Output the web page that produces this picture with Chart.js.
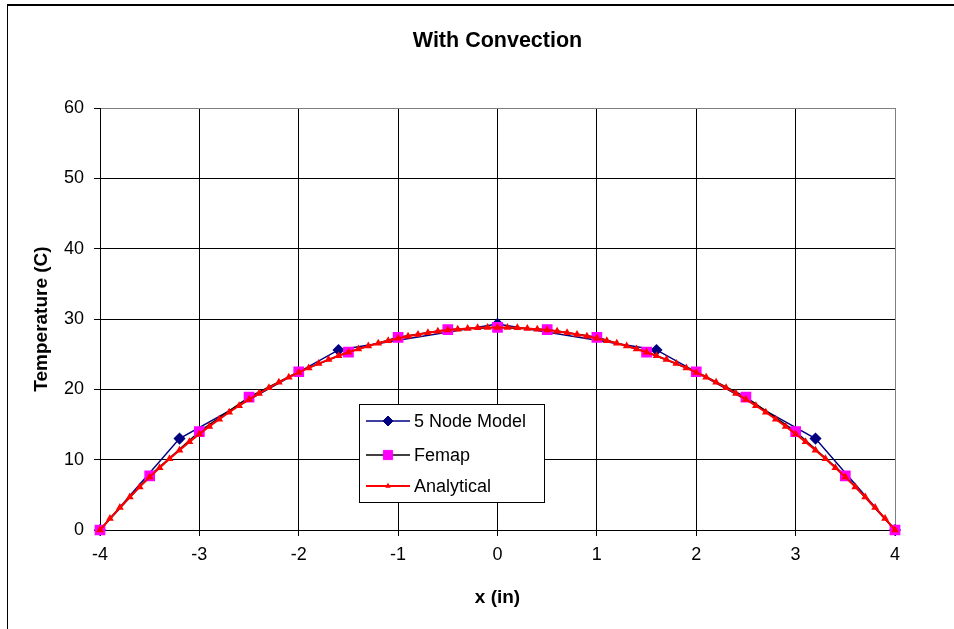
<!DOCTYPE html>
<html>
<head>
<meta charset="utf-8">
<script src="https://cdn.jsdelivr.net/npm/chart.js@4/dist/chart.umd.min.js"></script>
<style>
  html, body { margin: 0; padding: 0; background: #fff; overflow: hidden; }
  #wrap { position: relative; width: 954px; height: 629px; }
  #frame { position: absolute; left: 7px; top: 4px; width: 1000px; height: 700px;
           border-left: 1px solid #000; border-top: 2px solid #000; pointer-events: none; }
</style>
</head>
<body>
<div id="wrap">
  <canvas id="c" width="954" height="629"></canvas>
  <div id="frame"></div>
</div>
<script>
const chartTitle = 'With Convection';
const xAxisTitle = 'x (in)';
const yAxisTitle = 'Temperature (C)';
const seriesNames = ['5 Node Model', 'Femap', 'Analytical'];

const xTicks = [-4, -3, -2, -1, 0, 1, 2, 3, 4];
const yTicks = [0, 10, 20, 30, 40, 50, 60];

const fiveNodeX = [-4, -3.2, -1.6, 0, 1.6, 3.2, 4];
const fiveNodeY = [0, 13.0, 25.6, 29.3, 25.6, 13.0, 0];

const femapX = [-4, -3.5, -3, -2.5, -2, -1.5, -1, -0.5, 0, 0.5, 1, 1.5, 2, 2.5, 3, 3.5, 4];
const femapY = [0, 7.7, 14.0, 18.9, 22.5, 25.3, 27.4, 28.5, 28.8, 28.5, 27.4, 25.3, 22.5, 18.9, 14.0, 7.7, 0];

const analyticalX = [-4, -3.9, -3.8, -3.7, -3.6, -3.5, -3.4, -3.3, -3.2, -3.1, -3, -2.9, -2.8, -2.7, -2.6, -2.5, -2.4, -2.3, -2.2, -2.1,
  -2, -1.9, -1.8, -1.7, -1.6, -1.5, -1.4, -1.3, -1.2, -1.1, -1, -0.9, -0.8, -0.7, -0.6, -0.5, -0.4, -0.3, -0.2, -0.1,
  0, 0.1, 0.2, 0.3, 0.4, 0.5, 0.6, 0.7, 0.8, 0.9, 1, 1.1, 1.2, 1.3, 1.4, 1.5, 1.6, 1.7, 1.8, 1.9,
  2, 2.1, 2.2, 2.3, 2.4, 2.5, 2.6, 2.7, 2.8, 2.9, 3, 3.1, 3.2, 3.3, 3.4, 3.5, 3.6, 3.7, 3.8, 3.9, 4];
const analyticalY = [0, 1.63, 3.19, 4.69, 6.13, 7.52, 8.85, 10.13, 11.35, 12.53, 13.65, 14.73, 15.76, 16.74, 17.68, 18.57, 19.42, 20.22, 20.99, 21.72,
  22.40, 23.05, 23.66, 24.23, 24.77, 25.27, 25.73, 26.16, 26.56, 26.92, 27.25, 27.55, 27.81, 28.04, 28.25, 28.42, 28.55, 28.66, 28.74, 28.78,
  28.80, 28.78, 28.74, 28.66, 28.55, 28.42, 28.25, 28.04, 27.81, 27.55, 27.25, 26.92, 26.56, 26.16, 25.73, 25.27, 24.77, 24.23, 23.66, 23.05,
  22.40, 21.72, 20.99, 20.22, 19.42, 18.57, 17.68, 16.74, 15.76, 14.73, 13.65, 12.53, 11.35, 10.13, 8.85, 7.52, 6.13, 4.69, 3.19, 1.63, 0];

const FONT = "'Liberation Sans', Arial, sans-serif";
const pts = (xs, ys) => xs.map((x, i) => ({ x: x, y: ys[i] }));

const legendPlugin = {
  id: 'boxLegend',
  afterDraw(chart) {
    const ctx = chart.ctx;
    const L = 359, T = 404, R = 544, B = 502;
    ctx.save();
    ctx.fillStyle = '#fff';
    ctx.fillRect(L, T, R - L, B - T);
    ctx.strokeStyle = '#000';
    ctx.lineWidth = 1;
    ctx.strokeRect(L + 0.5, T + 0.5, R - L, B - T);
    const rows = [421, 455, 486];
    chart.data.datasets.forEach((ds, i) => {
      const y = rows[i];
      ctx.strokeStyle = ds.borderColor;
      ctx.lineWidth = ds.borderWidth;
      ctx.beginPath();
      ctx.moveTo(366, y);
      ctx.lineTo(410, y);
      ctx.stroke();
      ctx.fillStyle = ds.pointBackgroundColor;
      ctx.strokeStyle = ds.pointBorderColor;
      ctx.lineWidth = 1;
      ctx.beginPath();
      const r = ds.pointRadius;
      if (ds.pointStyle === 'rectRot') {
        ctx.moveTo(388, y - r); ctx.lineTo(388 + r, y); ctx.lineTo(388, y + r); ctx.lineTo(388 - r, y); ctx.closePath();
      } else if (ds.pointStyle === 'rect') {
        const s = r * Math.SQRT1_2;
        ctx.rect(388 - s, y - s, 2 * s, 2 * s);
      } else {
        ctx.moveTo(388, y - r); ctx.lineTo(388 + r * 0.87, y + r * 0.5); ctx.lineTo(388 - r * 0.87, y + r * 0.5); ctx.closePath();
      }
      ctx.fill(); ctx.stroke();
      ctx.fillStyle = '#000';
      ctx.font = '18px ' + FONT;
      ctx.textAlign = 'left';
      ctx.textBaseline = 'middle';
      ctx.fillText(ds.label, 414, y + 1);
    });
    ctx.restore();
  }
};

const titlePlugin = {
  id: 'centerTitle',
  afterDraw(chart) {
    const ctx = chart.ctx;
    const a = chart.chartArea;
    ctx.save();
    ctx.fillStyle = '#000';
    ctx.font = 'bold 21.5px ' + FONT;
    ctx.textAlign = 'center';
    ctx.textBaseline = 'middle';
    ctx.fillText(chartTitle, (a.left + a.right) / 2, 41);
    ctx.restore();
  }
};

new Chart(document.getElementById('c'), {
  type: 'line',
  data: {
    datasets: [
      {
        label: seriesNames[0], data: pts(fiveNodeX, fiveNodeY), order: 3, clip: false,
        borderColor: '#000080', backgroundColor: '#000080', borderWidth: 1.5,
        pointStyle: 'rectRot', pointRadius: 5, pointBackgroundColor: '#000080', pointBorderColor: '#000080',
        tension: 0, fill: false
      },
      {
        label: seriesNames[1], data: pts(femapX, femapY), order: 2, clip: false,
        borderColor: '#000000', backgroundColor: '#ff00ff', borderWidth: 1.5,
        pointStyle: 'rect', pointRadius: 6.5, pointBackgroundColor: '#ff00ff', pointBorderColor: '#ff00ff',
        tension: 0, fill: false
      },
      {
        label: seriesNames[2], data: pts(analyticalX, analyticalY), order: 1, clip: false,
        borderColor: '#ff0000', backgroundColor: '#ff0000', borderWidth: 2,
        pointStyle: 'triangle', pointRadius: 2.5, pointBackgroundColor: '#ff0000', pointBorderColor: '#ff0000',
        tension: 0, fill: false
      }
    ]
  },
  options: {
    responsive: false,
    animation: false,
    devicePixelRatio: 1,
    events: [],
    layout: { padding: { top: 108, right: 59, bottom: 0, left: 0 } },
    plugins: {
      legend: { display: false },
      title: { display: false },
      tooltip: { enabled: false }
    },
    scales: {
      x: {
        type: 'linear', min: xTicks[0], max: xTicks[xTicks.length - 1],
        afterBuildTicks: (s) => { s.ticks = xTicks.map(v => ({ value: v })); },
        afterFit: (s) => { s.height = 99; },
        ticks: { color: '#000', font: { family: FONT, size: 18 }, padding: 8, maxRotation: 0,
                 callback: (v) => String(v) },
        grid: { color: (c) => (c.tick && c.tick.value === 4 ? '#808080' : '#000'), lineWidth: 1,
                tickLength: 6, tickColor: '#000', drawTicks: true },
        border: { color: '#000', width: 1 },
        title: { display: true, text: xAxisTitle, color: '#000',
                 font: { family: FONT, size: 19, weight: 'bold' }, padding: { top: 0, bottom: 20 } }
      },
      y: {
        type: 'linear', min: yTicks[0], max: yTicks[yTicks.length - 1],
        afterBuildTicks: (s) => { s.ticks = yTicks.map(v => ({ value: v })); },
        afterFit: (s) => { s.width = 100; },
        ticks: { color: '#000', font: { family: FONT, size: 18 }, padding: 10,
                 callback: (v) => String(v) },
        grid: { color: (c) => (c.tick && c.tick.value === 60 ? '#808080' : '#000'), lineWidth: 1,
                tickLength: 6, tickColor: '#000', drawTicks: true },
        border: { color: '#000', width: 1 },
        title: { display: true, text: yAxisTitle, color: '#000',
                 font: { family: FONT, size: 19, weight: 'bold' }, padding: { top: 30, bottom: 0 } }
      }
    }
  },
  plugins: [titlePlugin, legendPlugin]
});
</script>
</body>
</html>
